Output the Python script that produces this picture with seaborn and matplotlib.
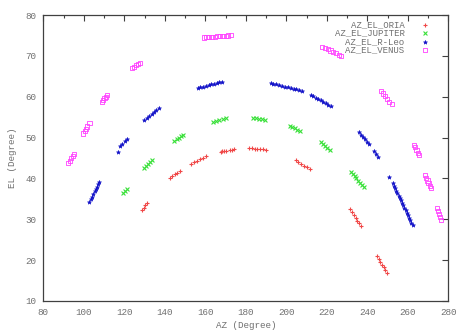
import matplotlib
matplotlib.use("Agg")
import matplotlib.pyplot as plt
from matplotlib.ticker import MultipleLocator
import numpy as np
import pandas as pd
import seaborn as sns

# Azimuth / elevation tracks (degrees) for each tracked source
oria_az = [128.6, 129.5, 130.4, 131.2,
           142.4, 143.6, 144.9, 146.1, 147.4,
           153.1, 154.6, 156.1, 157.6, 159.0, 160.5,
           167.5, 168.4, 169.3, 170.2, 172.3, 173.3, 174.3,
           181.5, 182.9, 184.3, 185.7, 187.0, 188.4, 189.8,
           204.6, 206.0, 207.4, 208.9, 210.3, 211.7,
           231.5, 232.4, 233.3, 234.2, 235.0, 235.9, 236.8,
           245.0, 245.8, 246.5, 247.3, 248.1, 248.8, 249.6]
oria_el = [32.2, 32.8, 33.4, 34.0,
           40.1, 40.5, 41.0, 41.4, 41.8,
           43.5, 43.9, 44.3, 44.7, 45.1, 45.5,
           46.5, 46.6, 46.7, 46.8, 46.9, 47.0, 47.1,
           47.4, 47.4, 47.3, 47.3, 47.2, 47.1, 47.0,
           44.5, 44.0, 43.6, 43.1, 42.7, 42.2,
           32.4, 31.7, 31.1, 30.4, 29.7, 29.1, 28.4,
           21.0, 20.3, 19.6, 18.9, 18.2, 17.5, 16.8]

jupiter_az = [119.6, 120.4, 121.3,
              129.5, 130.5, 131.6, 132.6, 133.7,
              144.7, 145.8, 146.9, 147.9, 149.0,
              163.9, 165.4, 167.0, 168.5, 170.0,
              183.7, 185.1, 186.5, 187.9, 189.3,
              201.8, 203.0, 204.3, 205.5, 206.7,
              217.0, 218.1, 219.2, 220.3, 221.4,
              231.8, 232.7, 233.7, 234.6, 235.6, 236.5, 237.5, 238.4]
jupiter_el = [36.5, 36.9, 37.3,
              42.6, 43.1, 43.6, 44.0, 44.5,
              49.2, 49.6, 49.9, 50.3, 50.6,
              53.9, 54.1, 54.3, 54.5, 54.7,
              54.9, 54.8, 54.6, 54.5, 54.3,
              52.9, 52.6, 52.3, 51.9, 51.6,
              49.0, 48.5, 48.0, 47.5, 47.0,
              41.6, 41.1, 40.5, 40.0, 39.4, 38.9, 38.3, 37.8]

rleo_az = [102.8, 103.4, 104.0, 104.6, 105.3, 105.9, 106.5, 107.1, 107.7,
           116.8, 118.0, 119.1, 120.2, 121.3,
           129.9, 131.1, 132.3, 133.5, 134.6, 135.8, 137.0,
           156.2, 157.5, 158.9, 160.2, 161.6, 162.9, 164.2, 165.6, 166.9, 168.3,
           192.2, 193.6, 195.1, 196.5, 197.9, 199.3, 200.8, 202.2, 203.6, 205.0,
           206.5, 207.9,
           212.0, 213.2, 214.5, 215.7, 217.0, 218.2, 219.4, 220.7, 221.9,
           235.9, 236.9, 237.9, 238.9, 239.9, 240.9,
           243.1, 244.2, 245.3,
           250.8,
           252.5, 253.1, 253.7, 254.2, 254.8, 255.4, 256.0, 256.6, 257.2, 257.7,
           258.3, 258.9, 259.5, 260.1, 260.6, 261.2, 261.8, 262.4]
rleo_el = [34.3, 34.9, 35.5, 36.1, 36.8, 37.4, 38.0, 38.6, 39.2,
           46.5, 48.0, 48.5, 49.1, 49.6,
           54.3, 54.8, 55.3, 55.8, 56.2, 56.7, 57.2,
           62.1, 62.3, 62.5, 62.6, 62.8, 63.0, 63.2, 63.3, 63.5, 63.7,
           63.4, 63.2, 63.1, 62.9, 62.7, 62.5, 62.4, 62.2, 62.0, 61.8,
           61.7, 61.5,
           60.4, 60.1, 59.7, 59.4, 59.1, 58.7, 58.4, 58.0, 57.7,
           51.3, 50.7, 50.1, 49.6, 49.0, 48.4,
           46.8, 46.0, 45.2,
           40.4,
           38.8, 38.2, 37.6, 37.0, 36.4, 35.8, 35.2, 34.6, 34.0, 33.4,
           32.8, 32.2, 31.6, 31.0, 30.4, 29.8, 29.2, 28.6]

venus_az = [92.4, 93.1, 93.8, 94.5, 95.2,
            99.8, 100.4, 100.9, 101.5, 102.8,
            108.9, 109.5, 110.2, 110.8, 111.4,
            123.7, 124.8, 125.8, 126.9, 127.9,
            159.2, 160.6, 161.9, 163.3, 164.6, 166.0, 167.4, 168.7, 170.1, 171.4, 172.8,
            217.8, 219.1, 220.5, 221.8, 223.2, 224.5, 225.9, 227.2,
            246.7, 247.8, 248.8, 249.9, 250.9, 252.0,
            262.9, 263.6, 264.3, 264.9, 265.6,
            268.5, 269.1, 269.7, 270.2, 270.8, 271.4,
            274.4, 274.9, 275.4, 275.9, 276.4]
venus_el = [43.7, 44.3, 44.9, 45.4, 46.0,
            51.0, 51.6, 52.1, 52.7, 53.6,
            58.8, 59.2, 59.6, 60.0, 60.4,
            67.0, 67.3, 67.7, 68.0, 68.3,
            74.5, 74.6, 74.6, 74.7, 74.7, 74.8, 74.8, 74.9, 74.9, 75.0, 75.1,
            72.2, 71.9, 71.6, 71.3, 70.9, 70.6, 70.3, 70.0,
            61.4, 60.8, 60.1, 59.5, 58.8, 58.2,
            48.2, 47.6, 47.0, 46.3, 45.7,
            40.8, 40.2, 39.5, 38.9, 38.2, 37.6,
            32.7, 32.0, 31.3, 30.5, 29.8]

series_names = ["AZ_EL_ORIA", "AZ_EL_JUPITER", "AZ_EL_R-Leo", "AZ_EL_VENUS"]
series_az = [oria_az, jupiter_az, rleo_az, venus_az]
series_el = [oria_el, jupiter_el, rleo_el, venus_el]
series_colors = ["#f04848", "#38e038", "#1010c8", "#ff40ff"]
series_markers = ["+", "x", "*", "s"]

sns.set_theme(style="white")
plt.rcParams["font.family"] = ["Liberation Mono", "DejaVu Sans Mono"]
text_color = "#707070"

fig = plt.figure(figsize=(4.68, 3.32), dpi=100)
ax = fig.add_axes([0.0925, 0.0934, 0.8655, 0.8614])

for name, az, el, col, mk in zip(series_names, series_az, series_el,
                                 series_colors, series_markers):
    df = pd.DataFrame({"AZ": az, "EL": el})
    if mk == "s":
        sns.scatterplot(data=df, x="AZ", y="EL", ax=ax, marker=mk, s=9,
                        color=col, facecolor="none", edgecolor=col,
                        linewidth=0.6, label=name)
    elif mk == "*":
        sns.scatterplot(data=df, x="AZ", y="EL", ax=ax, marker=mk, s=9,
                        color=col, edgecolor=col, linewidth=0.4, label=name)
    else:
        sns.scatterplot(data=df, x="AZ", y="EL", ax=ax, marker=mk, s=8,
                        color=col, linewidth=0.8, label=name)

ax.set_xlim(80, 280)
ax.set_ylim(10, 80)
ax.xaxis.set_major_locator(MultipleLocator(20))
ax.xaxis.set_minor_locator(MultipleLocator(10))
ax.yaxis.set_major_locator(MultipleLocator(10))
ax.tick_params(axis="both", which="both", direction="in", top=True, right=True,
               colors="#404040", labelcolor=text_color, labelsize=6.7, width=0.8)
ax.tick_params(axis="both", which="major", length=4, pad=5)
ax.tick_params(axis="x", which="minor", length=2.5)
for sp in ax.spines.values():
    sp.set_color("#404040")
    sp.set_linewidth(0.9)

ax.set_xlabel("AZ (Degree)", fontsize=6.7, color=text_color, labelpad=3)
ax.set_ylabel("EL (Degree)", fontsize=6.7, color=text_color, labelpad=6)

leg = ax.legend(loc="upper right", bbox_to_anchor=(0.93, 0.958),
                bbox_transform=fig.transFigure, frameon=False, markerfirst=False,
                scatterpoints=1, fontsize=6.5, labelspacing=-0.07,
                handletextpad=1.9, borderpad=0.2, handlelength=0.8)
for t in leg.get_texts():
    t.set_color(text_color)

fig.savefig("out.png", dpi=100)
